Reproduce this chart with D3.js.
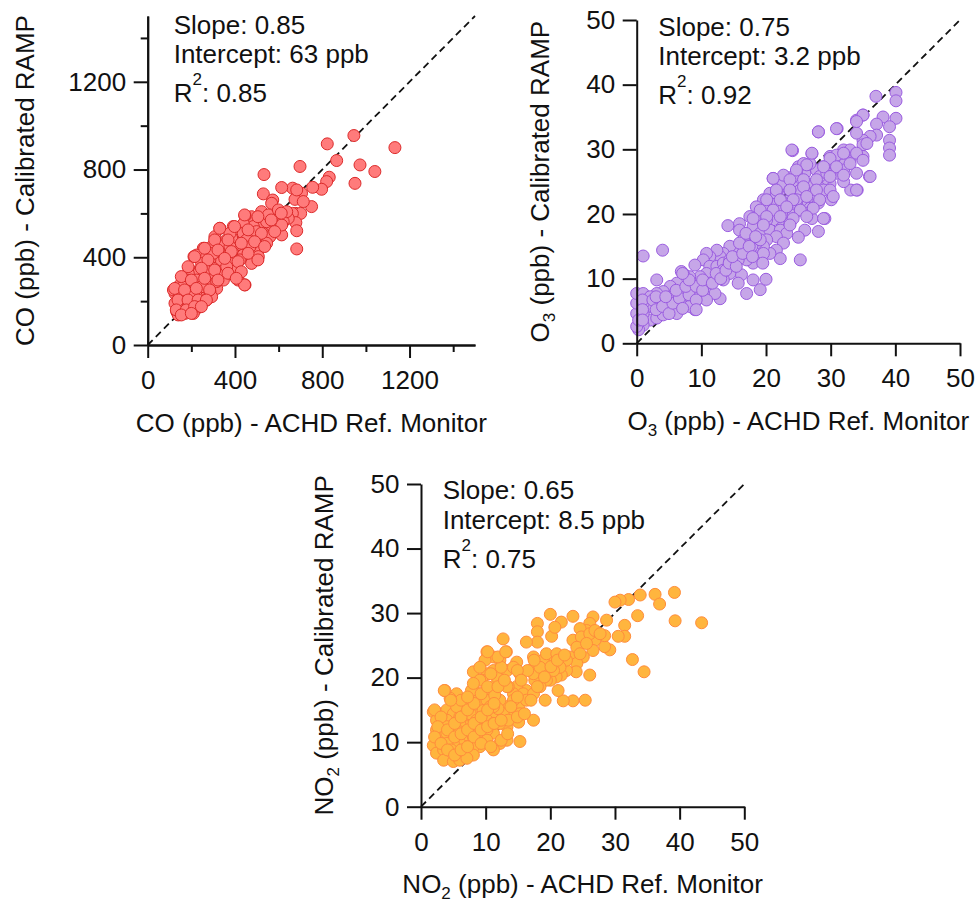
<!DOCTYPE html>
<html>
<head>
<meta charset="utf-8">
<script src="https://cdn.jsdelivr.net/npm/d3@7"></script>
<style>
  body { margin: 0; background: #fff; }
  text { font-family: "Liberation Sans", Arial, sans-serif; fill: #111; }
</style>
</head>
<body>
<svg id="chart" width="977" height="902"></svg>
<script>
// --- data: [reference monitor, calibrated RAMP] pairs ---
const coPoints = [
  [1133,900],[945,955],[823,917],[866,841],[973,821],[1041,791],[950,737],[698,814],[533,777],[832,765],
  [820,745],[797,710],[756,719],[751,631],[705,692],[664,715],[614,718],[675,664],[683,707],[530,689],
  [573,661],[568,646],[713,654],[679,600],[701,600],[621,600],[663,600],[679,558],[683,521],[683,438],
  [614,502],[583,532],[644,578],[591,570],[560,540],[507,585],[476,585],[446,588],[515,540],[484,540],
  [438,552],[392,540],[411,517],[331,532],[308,494],[385,487],[438,509],[469,502],[530,509],[560,494],
  [499,479],[545,464],[507,433],[446,464],[408,441],[362,479],[339,451],[293,448],[255,441],[212,403],
  [224,410],[270,403],[331,403],[362,403],[392,418],[438,410],[476,372],[423,388],[377,372],[316,372],
  [285,388],[247,372],[194,342],[240,342],[301,350],[347,327],[408,342],[415,296],[446,274],[347,296],
  [316,258],[285,296],[232,327],[209,296],[186,327],[163,289],[133,258],[125,235],[156,251],[186,258],
  [232,251],[263,235],[285,243],[255,197],[224,182],[194,167],[163,159],[133,152],[140,137],[209,205],
  [179,205],[148,205],[118,251],[224,220],[270,274],[331,334],[171,235],[202,228],[156,182],[186,182],
  [217,159],[240,175],[270,205],[202,274],[148,274],[316,289],[362,357],[453,479],[499,517],[576,578],
  [621,562],[545,562],[522,608],[553,593],[599,616],[637,608],[614,547],[377,509],[377,448],[301,418],
  [469,448],[507,403],[263,342],[224,296],[179,296],[145,220],[163,266],[247,266],[293,220],[125,190],
  [209,144],[171,144],
  [444,593],[505,585],[566,570],[612,601],[330,532],[398,540],[460,525],[521,509],[582,517],[307,479],
  [368,479],[429,464],[490,471],[536,449],[261,441],[322,433],[383,426],[460,418],[505,388],[215,403],
  [276,388],[353,395],[414,380],[185,357],[246,350],[307,342],[368,327],[429,334],[444,274],[406,304],
  [154,312],[200,296],[261,304],[322,296],[124,258],[169,251],[223,258],[284,251],[139,205],[185,205],
  [231,205],[269,205],[131,160],[177,160],[215,175],[154,137],[200,144],[246,175]
];

const o3Points = [
  [40.1,38.8],[40.1,37.5],[37.0,38.2],[40.1,34.8],[38.1,35.0],[39.1,33.5],[37.1,33.9],[37.1,32.2],[39.1,31.4],[39.1,30.2],
  [39.1,29.1],[36.1,32.0],[35.0,31.4],[35.0,30.7],[34.0,32.5],[35.0,35.3],[34.0,34.5],[31.0,33.2],[28.1,32.7],[24.1,29.8],
  [27.1,29.3],[36.0,25.8],[34.1,23.7],[33.1,23.7],[34.0,26.3],[35.0,28.9],[33.0,28.3],[32.0,27.6],[32.0,29.9],[29.9,28.9],
  [30.9,26.3],[32.0,25.0],[29.9,26.3],[29.9,24.7],[28.9,27.3],[28.9,25.3],[27.8,26.8],[26.8,27.8],[25.8,27.3],[26.0,26.3],
  [24.7,26.3],[23.7,25.3],[22.9,25.8],[21.1,25.5],[22.2,23.7],[21.6,22.7],[23.2,24.2],[24.2,24.2],[25.3,23.7],[26.8,24.5],
  [28.1,24.2],[28.3,23.2],[28.9,23.7],[30.1,22.2],[26.8,22.7],[25.8,22.2],[24.7,21.7],[23.7,22.2],[22.7,21.7],[22.2,20.9],
  [21.1,21.7],[20.1,22.2],[20.1,20.6],[21.1,20.1],[23.2,20.1],[24.2,19.8],[25.3,20.6],[26.8,20.9],[28.1,21.7],[27.1,19.3],
  [29.1,19.3],[26.0,17.5],[28.1,17.3],[25.0,16.4],[25.3,12.9],[22.2,19.1],[21.1,19.1],[19.6,19.1],[18.5,19.6],[18.0,18.1],
  [19.1,17.0],[20.6,17.5],[22.2,17.5],[23.2,17.0],[21.6,16.5],[20.1,16.0],[22.7,15.5],[21.6,14.4],[22.2,13.1],[20.6,13.9],
  [19.6,15.0],[18.5,15.5],[17.5,16.0],[16.5,17.0],[15.9,18.5],[15.9,17.5],[16.5,16.0],[17.5,13.9],[18.5,13.4],[19.6,13.9],
  [18.0,12.4],[17.0,12.9],[15.9,13.9],[15.5,15.0],[14.4,15.0],[14.1,18.2],[13.4,13.9],[12.9,13.4],[12.4,14.4],[11.3,13.4],
  [10.8,13.9],[10.3,12.9],[11.3,11.9],[12.4,11.9],[13.4,12.4],[14.4,12.4],[15.2,11.9],[16.2,10.6],[15.7,9.3],[14.4,10.8],
  [13.4,11.3],[12.9,10.0],[11.9,10.3],[10.8,10.8],[9.8,10.3],[9.0,12.1],[8.2,10.3],[7.2,10.8],[6.9,11.1],[6.2,9.3],
  [5.2,8.8],[4.1,8.0],[3.1,9.8],[4.0,14.4],[1.0,13.5],[17.0,7.7],[18.0,9.8],[19.1,8.3],[20.0,9.9],[12.9,6.9],
  [12.1,7.7],[10.3,7.7],[9.3,6.7],[9.0,5.2],[8.2,7.0],[7.2,7.5],[6.9,5.4],[6.2,6.7],[5.2,5.2],[4.9,6.4],
  [3.9,5.4],[3.1,7.7],[3.1,6.7],[2.1,5.7],[2.1,3.6],[1.0,4.6],[1.0,2.8],[0.3,2.1],[0.0,2.6],[0.0,4.6],
  [0.0,6.2],[0.0,7.7],[1.0,7.7],[1.0,6.2],[2.1,7.2],[0.3,3.6],[3.1,3.9],[4.1,4.4],[6.2,4.6],[8.2,5.7],
  [10.8,6.7],[11.3,9.3],[13.4,9.8],[14.4,12.9],[15.7,12.9],[16.5,15.0],[17.8,15.0],[19.1,16.0],[20.1,19.1],[19.6,22.2],
  [20.6,23.2],[21.6,23.2],[22.7,24.7],[24.2,25.8],[25.0,27.3],[25.8,27.8],[23.7,23.7],[28.3,25.8],[30.4,27.9],[30.9,29.1],
  [33.0,29.9],[32.0,26.8],[29.4,26.3],[27.3,23.2],[26.3,20.1],[23.7,18.6],[24.7,22.2],[18.5,21.1],[17.5,19.6],[9.3,8.3],
  [5.9,7.7],
  [35.0,35.3],[34.0,34.3],[30.9,33.2],[28.1,32.7],[24.0,29.9],[27.1,29.4],[29.9,28.6],[32.0,29.4],[34.0,29.4],[35.6,30.9],
  [35.0,28.3],[33.0,27.8],[30.9,27.3],[28.9,27.3],[26.3,27.6],[24.7,26.8],[22.7,26.0],[21.1,25.5],[23.7,25.3],[25.8,25.3],
  [27.8,25.3],[29.9,25.8],[32.0,26.0],[34.0,23.7],[36.1,25.8],[21.6,23.7],[23.7,23.7],[25.8,24.2],[27.8,23.7],[29.9,23.7],
  [20.1,22.2],[22.2,22.2],[24.2,22.2],[26.3,22.7],[28.3,22.2],[30.4,22.7],[19.1,20.6],[21.1,20.6],[23.2,21.1],[25.3,20.6],
  [27.3,20.9],[18.0,19.3],[20.1,19.6],[22.2,19.6],[24.2,19.3],[26.3,19.6],[28.9,19.3],[19.6,18.3],[23.7,18.3],
  [0.9,6.7],[0.9,5.2],[0.9,3.6],[2.5,6.7],[3.0,5.2],[4.0,5.7],[5.0,4.6],[5.6,6.2],[6.6,7.0],[7.1,5.4],
  [8.1,7.5],[9.2,6.7],[9.2,5.2],[6.1,8.2],[7.6,8.8],[9.2,8.8],[10.2,8.2],[10.2,9.8],[11.7,9.3],[12.3,10.8],
  [13.0,10.0],[13.8,11.3],[14.3,12.4],[15.4,11.9],[14.8,13.4],[16.4,13.9],[15.9,15.5],[17.4,15.0],[16.9,17.0],[18.4,16.5],
  [17.9,13.4],[19.5,12.4],[3.0,7.2],[4.5,7.2],[8.1,9.8],[7.1,10.8]
];

const no2Points = [
  [43.4,28.5],[39.3,28.8],[39.2,33.2],[36.2,32.9],[36.9,31.4],[33.9,32.8],[33.5,29.6],[32.1,32.1],[30.8,32.0],[30.0,31.7],
  [31.5,28.1],[31.5,26.4],[30.5,26.4],[32.7,22.8],[34.5,20.9],[28.7,28.9],[29.2,24.3],[28.4,24.8],[28.4,26.5],[26.9,25.8],
  [26.6,29.4],[26.1,28.4],[25.6,27.3],[24.6,27.6],[23.5,29.5],[23.5,25.8],[24.8,26.3],[26.1,26.8],[26.6,24.2],[25.1,23.2],
  [24.1,24.7],[23.0,23.2],[24.1,22.2],[24.0,20.9],[26.1,20.4],[25.4,16.5],[23.5,16.4],[22.0,16.4],[21.2,18.0],[22.5,21.1],
  [21.7,20.4],[20.9,20.1],[20.0,19.6],[18.9,20.6],[20.5,22.7],[21.7,28.6],[20.2,26.4],[20.7,27.8],[20.0,29.8],[18.0,28.4],
  [18.0,27.1],[18.0,25.5],[16.3,25.5],[17.4,23.2],[18.9,22.7],[19.2,16.5],[17.4,13.4],[15.3,10.1],[12.7,26.0],[13.2,24.0],
  [14.8,22.4],[15.3,20.6],[16.9,21.1],[17.6,19.6],[16.3,18.0],[14.8,18.6],[14.3,17.5],[15.1,15.5],[13.3,15.5],[14.3,14.4],
  [15.1,13.1],[13.3,12.4],[13.3,10.3],[12.2,9.8],[11.2,8.8],[11.2,11.4],[12.2,12.9],[11.2,14.4],[12.2,16.5],[11.2,18.6],
  [12.2,19.6],[11.2,21.1],[10.2,24.0],[11.2,23.2],[12.2,22.7],[10.2,20.6],[9.4,19.6],[8.1,20.9],[10.2,18.0],[9.1,17.5],
  [8.3,17.8],[8.1,16.5],[9.4,16.0],[10.2,16.5],[7.1,15.5],[6.5,16.5],[5.5,17.5],[4.5,16.8],[3.7,18.0],[1.9,14.7],
  [2.9,14.4],[4.0,15.0],[5.0,14.4],[6.0,13.9],[7.1,13.4],[8.1,13.9],[9.1,14.4],[10.2,13.4],[11.2,12.9],[10.2,11.9],
  [9.1,12.4],[8.1,12.4],[7.1,12.4],[6.0,12.9],[5.0,12.9],[4.0,13.4],[2.9,12.9],[2.4,11.9],[2.9,10.8],[4.0,11.4],
  [5.0,11.4],[6.0,11.6],[7.1,10.8],[8.1,10.8],[9.1,10.8],[10.2,10.3],[9.1,9.3],[8.1,9.3],[7.1,9.3],[6.0,9.8],
  [5.0,9.8],[4.0,9.8],[2.9,9.3],[1.9,9.5],[2.4,8.3],[3.5,8.8],[4.7,8.8],[6.0,8.3],[7.1,8.0],[8.1,8.0],
  [3.5,7.2],[5.0,7.0],[6.0,7.2],[7.1,7.5],[2.9,13.9],[4.0,12.4],[2.4,13.4],[5.5,15.5],[7.6,14.4],[8.6,13.4],
  [9.6,14.9],[10.7,15.5],[11.4,17.3],[7.8,18.0],[13.5,18.6],[13.3,21.1],[14.3,21.6],[9.1,19.6],[9.9,22.7],[11.7,20.1],
  [13.3,18.6],[12.7,14.4],[11.9,15.2],[11.2,15.5],[13.5,13.4],[14.3,16.5],[15.8,17.5],[17.4,20.6],[18.4,21.6],[19.4,23.7],
  [21.0,23.7],[22.5,22.7],[24.6,23.7],[25.6,25.3],[26.9,27.3],[27.7,26.8],[21.5,21.6],[20.5,21.1],[19.4,19.6],[18.4,18.6],
  [17.4,17.5],[16.3,16.5],[15.3,14.4],[9.1,21.6],[8.1,19.1],
  [2.1,15.0],[3.1,13.9],[2.6,12.4],[2.1,10.8],[3.1,9.8],[4.1,8.8],[5.2,8.0],[6.2,8.8],[7.2,9.3],[4.1,11.9],
  [5.2,12.9],[6.2,13.9],[7.2,15.0],[8.2,16.0],[5.2,10.8],[6.2,11.3],[7.2,11.9],[8.2,12.9],[9.3,13.9],[10.3,15.0],
  [11.3,16.0],[8.2,10.8],[9.3,11.9],[10.3,12.4],[11.3,12.9],[12.4,13.4],[9.3,9.8],[10.8,9.3],[12.4,10.3],[13.4,11.3],
  [6.2,16.5],[7.2,17.0],[9.3,17.5],[10.3,18.6],[11.9,18.6],[12.9,19.6],[10.8,20.6],[12.4,21.6],[11.9,23.2],[10.3,24.0],
  [13.1,24.0],[13.9,15.5],[14.9,17.0],[14.9,13.9],[16.0,14.4],[17.0,16.5],[18.0,18.6],[19.1,20.1],[20.1,21.7],[21.1,22.7],
  [22.2,23.5],[16.5,21.1],[17.5,22.7],[14.9,21.1],[15.5,19.6],[4.6,16.5],[3.6,18.0]
];

const coTicks = [0, 400, 800, 1200];
const coMinorTicks = [200, 600, 1000, 1400];
const ppbTicks = [0, 10, 20, 30, 40, 50];

const statSlope = [0.85, 0.75, 0.65];
const statIntercept = ["63", "3.2", "8.5"];
const statR2 = [0.85, 0.92, 0.75];

// --- layout ---
const svg = d3.select("#chart");
const FS = 26;

const panels = [
  { pts: coPoints, max: 1500, ticks: coTicks, minor: coMinorTicks,
    left: 147.7, right: 475, top: 16, bottom: 345,
    name: "CO", sub: "", fill: "#ff7b7b", stroke: "#dc2a2a",
    annDx: 26, annTop: 17.5, yTitleX: 33.5, xTitleDy: 87, stat: 0 },
  { pts: o3Points, max: 50, ticks: ppbTicks, minor: [],
    left: 636.7, right: 960, top: 20, bottom: 343.3,
    name: "O", sub: "3", fill: "#c6a6e8", stroke: "#9a5ce0",
    annDx: 21.6, annTop: 15.7, yTitleX: 549, xTitleDy: 86.5, stat: 1 },
  { pts: no2Points, max: 50, ticks: ppbTicks, minor: [],
    left: 421, right: 744.3, top: 484, bottom: 806.7,
    name: "NO", sub: "2", fill: "#ffb53e", stroke: "#ff8c3c",
    annDx: 21.7, annTop: 15, yTitleX: 333.3, xTitleDy: 86, stat: 2 }
];

function speciesTitle(t, p, rest) {
  t.append("tspan").text(p.name);
  if (p.sub) {
    t.append("tspan").attr("font-size", 17).attr("dy", 6).text(p.sub);
    t.append("tspan").attr("dy", -6).text(rest);
  } else {
    t.append("tspan").text(rest);
  }
}

panels.forEach(p => {
  const x = d3.scaleLinear().domain([0, p.max]).range([p.left, p.right]);
  const y = d3.scaleLinear().domain([0, p.max]).range([p.bottom, p.top]);
  const g = svg.append("g");

  // 1:1 line
  g.append("line")
    .attr("x1", x(0)).attr("y1", y(0))
    .attr("x2", x(p.max)).attr("y2", y(p.max))
    .attr("stroke", "#111").attr("stroke-width", 1.8)
    .attr("stroke-dasharray", "7,4.5");

  // points
  g.append("g").selectAll("circle")
    .data(p.pts)
    .join("circle")
    .attr("cx", d => x(d[0]))
    .attr("cy", d => y(d[1]))
    .attr("r", 6)
    .attr("fill", p.fill)
    .attr("stroke", p.stroke)
    .attr("stroke-width", 1);

  // axes
  g.append("g")
    .attr("transform", `translate(0,${p.bottom})`)
    .call(d3.axisBottom(x).tickValues(p.ticks).tickFormat(d3.format("d"))
      .tickSize(13).tickSizeOuter(0).tickPadding(12.5));
  g.append("g")
    .attr("transform", `translate(${p.left},0)`)
    .call(d3.axisLeft(y).tickValues(p.ticks).tickFormat(d3.format("d"))
      .tickSize(14).tickSizeOuter(0).tickPadding(7.5));
  if (p.minor.length) {
    g.append("g").attr("transform", `translate(0,${p.bottom})`)
      .call(d3.axisBottom(x).tickValues(p.minor).tickFormat("").tickSize(7).tickSizeOuter(0));
    g.append("g").attr("transform", `translate(${p.left},0)`)
      .call(d3.axisLeft(y).tickValues(p.minor).tickFormat("").tickSize(7).tickSizeOuter(0));
  }
  g.selectAll(".domain").attr("stroke", "#111").attr("stroke-width", 2);
  g.selectAll(".tick line").attr("stroke", "#111").attr("stroke-width", 2);
  g.selectAll(".tick text")
    .attr("font-size", FS)
    .attr("font-family", "'Liberation Sans', Arial, sans-serif")
    .attr("fill", "#111");

  // axis titles
  const xt = g.append("text")
    .attr("x", (p.left + p.right) / 2)
    .attr("y", p.bottom + p.xTitleDy)
    .attr("text-anchor", "middle")
    .attr("font-size", FS);
  speciesTitle(xt, p, " (ppb) - ACHD Ref. Monitor");

  const yt = g.append("text")
    .attr("transform", `translate(${p.yTitleX},${(p.top + p.bottom) / 2}) rotate(-90)`)
    .attr("text-anchor", "middle")
    .attr("font-size", FS);
  speciesTitle(yt, p, " (ppb) - Calibrated RAMP");

  // regression stats
  const ax = p.left + p.annDx;
  const i = p.stat;
  g.append("text").attr("x", ax).attr("y", p.top + p.annTop).attr("font-size", FS)
    .text(`Slope: ${statSlope[i].toFixed(2)}`);
  g.append("text").attr("x", ax).attr("y", p.top + p.annTop + 29.5).attr("font-size", FS)
    .text(`Intercept: ${statIntercept[i]} ppb`);
  const r = g.append("text").attr("x", ax).attr("y", p.top + p.annTop + 68.5).attr("font-size", FS);
  r.append("tspan").text("R");
  r.append("tspan").attr("font-size", 17).attr("dy", -17).text("2");
  r.append("tspan").attr("dy", 17).text(`: ${statR2[i].toFixed(2)}`);
});
</script>
</body>
</html>
